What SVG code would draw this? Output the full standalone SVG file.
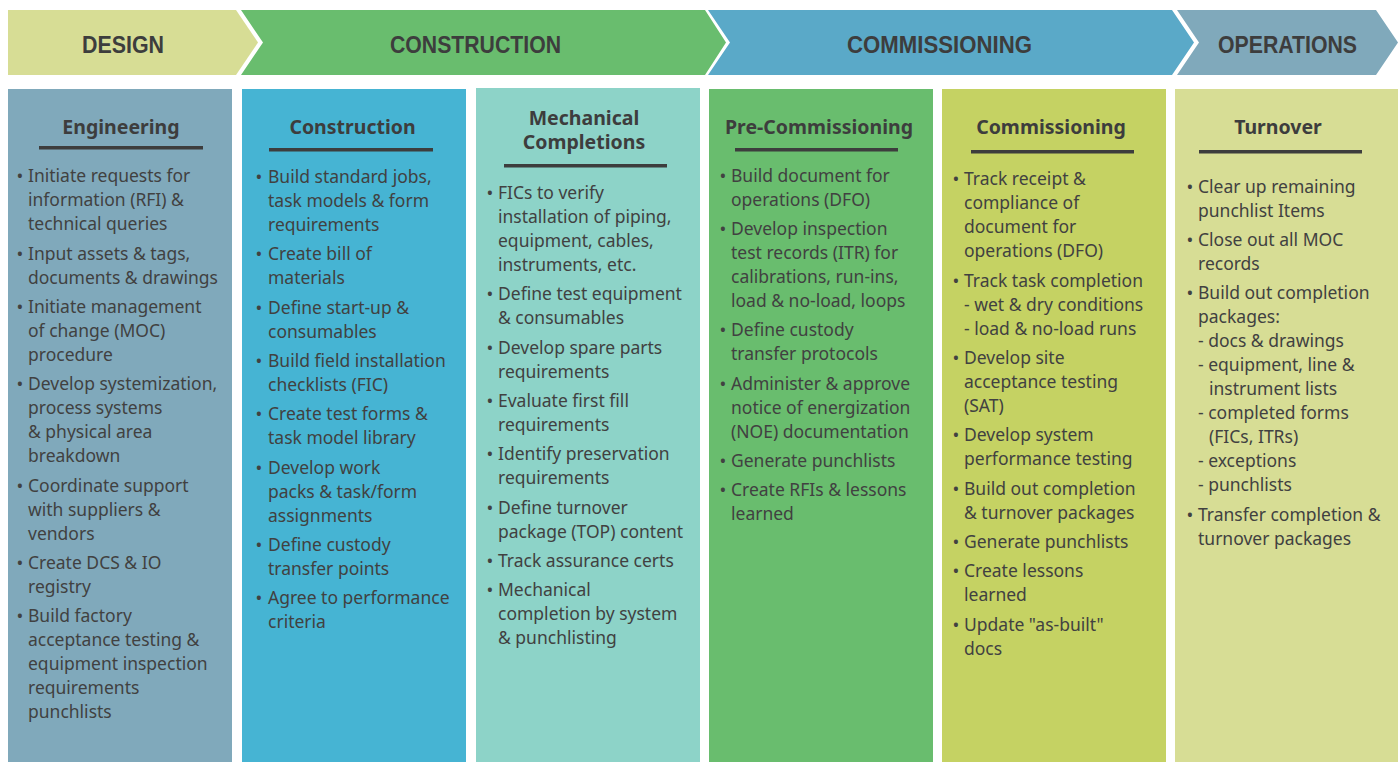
<svg xmlns="http://www.w3.org/2000/svg" width="1398" height="762" viewBox="0 0 1398 762">
<style>
.ph{font-family:"Liberation Sans",Arial,sans-serif;font-weight:700;font-size:23px;fill:#3d3d3d}
.h{font-family:"Noto Sans","DejaVu Sans",sans-serif;font-weight:700;font-size:19.5px;fill:#3d3d3d;text-anchor:middle}
.t{font-family:"Noto Sans","DejaVu Sans",sans-serif;font-size:17.5px;fill:#414141}
.b{font-family:"Noto Sans","DejaVu Sans",sans-serif;font-size:18px;fill:#414141;text-anchor:middle}
.ul{fill:#3d3d3d}
</style>
<rect width="1398" height="762" fill="#ffffff"/>
<g id="phase-design">
<polygon points="8,10 236,10 258,42.5 236,75 8,75" fill="#d7dd95"/>
<text class="ph" x="82" y="52.5" textLength="82" lengthAdjust="spacingAndGlyphs">DESIGN</text>
</g>
<g id="phase-construction">
<polygon points="241,10 705,10 726,42.5 705,75 241,75 263,42.5" fill="#69bd6e"/>
<text class="ph" x="390" y="52.5" textLength="171" lengthAdjust="spacingAndGlyphs">CONSTRUCTION</text>
</g>
<g id="phase-commissioning">
<polygon points="708,10 1172,10 1194,42.5 1172,75 708,75 730,42.5" fill="#5aa9c8"/>
<text class="ph" x="847" y="52.5" textLength="185" lengthAdjust="spacingAndGlyphs">COMMISSIONING</text>
</g>
<g id="phase-operations">
<polygon points="1177,10 1376,10 1398,42.5 1376,75 1177,75 1199,42.5" fill="#80a9bb"/>
<text class="ph" x="1218" y="52.5" textLength="139" lengthAdjust="spacingAndGlyphs">OPERATIONS</text>
</g>

<g id="col-engineering">
<rect x="8" y="89" width="224" height="673" fill="#80a9bb"/>
<text class="h" x="121" y="133.5">Engineering</text>
<rect class="ul" x="39" y="146" width="164" height="3.5"/>
<text class="b" x="20" y="181.5">•</text><text class="t" x="28" y="181.5">Initiate requests for</text>
<text class="t" x="28" y="205.5">information (RFI) &amp;</text>
<text class="t" x="28" y="229.5">technical queries</text>
<text class="b" x="20" y="259.5">•</text><text class="t" x="28" y="259.5">Input assets &amp; tags,</text>
<text class="t" x="28" y="283.5">documents &amp; drawings</text>
<text class="b" x="20" y="312.5">•</text><text class="t" x="28" y="312.5">Initiate management</text>
<text class="t" x="28" y="336.5">of change (MOC)</text>
<text class="t" x="28" y="360.5">procedure</text>
<text class="b" x="20" y="389.5">•</text><text class="t" x="28" y="389.5">Develop systemization,</text>
<text class="t" x="28" y="413.5">process systems</text>
<text class="t" x="28" y="437.5">&amp; physical area</text>
<text class="t" x="28" y="461.5">breakdown</text>
<text class="b" x="20" y="491.5">•</text><text class="t" x="28" y="491.5">Coordinate support</text>
<text class="t" x="28" y="515.5">with suppliers &amp;</text>
<text class="t" x="28" y="539.5">vendors</text>
<text class="b" x="20" y="568.5">•</text><text class="t" x="28" y="568.5">Create DCS &amp; IO</text>
<text class="t" x="28" y="592.5">registry</text>
<text class="b" x="20" y="621.5">•</text><text class="t" x="28" y="621.5">Build factory</text>
<text class="t" x="28" y="645.5">acceptance testing &amp;</text>
<text class="t" x="28" y="669.5">equipment inspection</text>
<text class="t" x="28" y="693.5">requirements</text>
<text class="t" x="28" y="717.5">punchlists</text>
</g>

<g id="col-construction">
<rect x="242" y="89" width="224" height="673" fill="#46b4d3"/>
<text class="h" x="352.5" y="133.5">Construction</text>
<rect class="ul" x="269" y="148" width="164" height="3.5"/>
<text class="b" x="259" y="182.5">•</text><text class="t" x="268" y="182.5">Build standard jobs,</text>
<text class="t" x="268" y="206.5">task models &amp; form</text>
<text class="t" x="268" y="230.5">requirements</text>
<text class="b" x="259" y="259.5">•</text><text class="t" x="268" y="259.5">Create bill of</text>
<text class="t" x="268" y="283.5">materials</text>
<text class="b" x="259" y="313.5">•</text><text class="t" x="268" y="313.5">Define start-up &amp;</text>
<text class="t" x="268" y="337.5">consumables</text>
<text class="b" x="259" y="366.5">•</text><text class="t" x="268" y="366.5">Build field installation</text>
<text class="t" x="268" y="390.5">checklists (FIC)</text>
<text class="b" x="259" y="419.5">•</text><text class="t" x="268" y="419.5">Create test forms &amp;</text>
<text class="t" x="268" y="443.5">task model library</text>
<text class="b" x="259" y="473.5">•</text><text class="t" x="268" y="473.5">Develop work</text>
<text class="t" x="268" y="497.5">packs &amp; task/form</text>
<text class="t" x="268" y="521.5">assignments</text>
<text class="b" x="259" y="550.5">•</text><text class="t" x="268" y="550.5">Define custody</text>
<text class="t" x="268" y="574.5">transfer points</text>
<text class="b" x="259" y="603.5">•</text><text class="t" x="268" y="603.5">Agree to performance</text>
<text class="t" x="268" y="627.5">criteria</text>
</g>

<g id="col-mechanical-completions">
<rect x="476" y="88" width="224" height="674" fill="#8dd3c8"/>
<text class="h" x="584" y="124.5">Mechanical</text>
<text class="h" x="584" y="149">Completions</text>
<rect class="ul" x="504" y="164" width="163" height="3.5"/>
<text class="b" x="490" y="198.5">•</text><text class="t" x="498" y="198.5">FICs to verify</text>
<text class="t" x="498" y="222.5">installation of piping,</text>
<text class="t" x="498" y="246.5">equipment, cables,</text>
<text class="t" x="498" y="270.5">instruments, etc.</text>
<text class="b" x="490" y="299.5">•</text><text class="t" x="498" y="299.5">Define test equipment</text>
<text class="t" x="498" y="323.5">&amp; consumables</text>
<text class="b" x="490" y="353.5">•</text><text class="t" x="498" y="353.5">Develop spare parts</text>
<text class="t" x="498" y="377.5">requirements</text>
<text class="b" x="490" y="406.5">•</text><text class="t" x="498" y="406.5">Evaluate first fill</text>
<text class="t" x="498" y="430.5">requirements</text>
<text class="b" x="490" y="459.5">•</text><text class="t" x="498" y="459.5">Identify preservation</text>
<text class="t" x="498" y="483.5">requirements</text>
<text class="b" x="490" y="513.5">•</text><text class="t" x="498" y="513.5">Define turnover</text>
<text class="t" x="498" y="537.5">package (TOP) content</text>
<text class="b" x="490" y="566.5">•</text><text class="t" x="498" y="566.5">Track assurance certs</text>
<text class="b" x="490" y="595.5">•</text><text class="t" x="498" y="595.5">Mechanical</text>
<text class="t" x="498" y="619.5">completion by system</text>
<text class="t" x="498" y="643.5">&amp; punchlisting</text>
</g>

<g id="col-pre-commissioning">
<rect x="709" y="89" width="224" height="673" fill="#69bd6e"/>
<text class="h" x="819" y="134">Pre-Commissioning</text>
<rect class="ul" x="735" y="148" width="163" height="3.5"/>
<text class="b" x="723" y="181.5">•</text><text class="t" x="731" y="181.5">Build document for</text>
<text class="t" x="731" y="205.5">operations (DFO)</text>
<text class="b" x="723" y="234.5">•</text><text class="t" x="731" y="234.5">Develop inspection</text>
<text class="t" x="731" y="258.5">test records (ITR) for</text>
<text class="t" x="731" y="282.5">calibrations, run-ins,</text>
<text class="t" x="731" y="306.5">load &amp; no-load, loops</text>
<text class="b" x="723" y="335.5">•</text><text class="t" x="731" y="335.5">Define custody</text>
<text class="t" x="731" y="359.5">transfer protocols</text>
<text class="b" x="723" y="389.5">•</text><text class="t" x="731" y="389.5">Administer &amp; approve</text>
<text class="t" x="731" y="413.5">notice of energization</text>
<text class="t" x="731" y="437.5">(NOE) documentation</text>
<text class="b" x="723" y="466.5">•</text><text class="t" x="731" y="466.5">Generate punchlists</text>
<text class="b" x="723" y="495.5">•</text><text class="t" x="731" y="495.5">Create RFIs &amp; lessons</text>
<text class="t" x="731" y="519.5">learned</text>
</g>

<g id="col-commissioning">
<rect x="942" y="89" width="224" height="673" fill="#c5d263"/>
<text class="h" x="1051" y="134">Commissioning</text>
<rect class="ul" x="971" y="150" width="163" height="3.5"/>
<text class="b" x="956" y="184.5">•</text><text class="t" x="964" y="184.5">Track receipt &amp;</text>
<text class="t" x="964" y="208.5">compliance of</text>
<text class="t" x="964" y="232.5">document for</text>
<text class="t" x="964" y="256.5">operations (DFO)</text>
<text class="b" x="956" y="286.5">•</text><text class="t" x="964" y="286.5">Track task completion</text>
<text class="t" x="964" y="310.5">- wet &amp; dry conditions</text>
<text class="t" x="964" y="334.5">- load &amp; no-load runs</text>
<text class="b" x="956" y="363.5">•</text><text class="t" x="964" y="363.5">Develop site</text>
<text class="t" x="964" y="387.5">acceptance testing</text>
<text class="t" x="964" y="411.5">(SAT)</text>
<text class="b" x="956" y="440.5">•</text><text class="t" x="964" y="440.5">Develop system</text>
<text class="t" x="964" y="464.5">performance testing</text>
<text class="b" x="956" y="494.5">•</text><text class="t" x="964" y="494.5">Build out completion</text>
<text class="t" x="964" y="518.5">&amp; turnover packages</text>
<text class="b" x="956" y="547.5">•</text><text class="t" x="964" y="547.5">Generate punchlists</text>
<text class="b" x="956" y="576.5">•</text><text class="t" x="964" y="576.5">Create lessons</text>
<text class="t" x="964" y="600.5">learned</text>
<text class="b" x="956" y="630.5">•</text><text class="t" x="964" y="630.5">Update "as-built"</text>
<text class="t" x="964" y="654.5">docs</text>
</g>

<g id="col-turnover">
<rect x="1175" y="89" width="223" height="673" fill="#d7dd95"/>
<text class="h" x="1278" y="134">Turnover</text>
<rect class="ul" x="1199" y="150" width="163" height="3.5"/>
<text class="b" x="1190" y="192.5">•</text><text class="t" x="1198" y="192.5">Clear up remaining</text>
<text class="t" x="1198" y="216.5">punchlist Items</text>
<text class="b" x="1190" y="245.5">•</text><text class="t" x="1198" y="245.5">Close out all MOC</text>
<text class="t" x="1198" y="269.5">records</text>
<text class="b" x="1190" y="298.5">•</text><text class="t" x="1198" y="298.5">Build out completion</text>
<text class="t" x="1198" y="322.5">packages:</text>
<text class="t" x="1198" y="346.5">- docs &amp; drawings</text>
<text class="t" x="1198" y="370.5">- equipment, line &amp;</text>
<text class="t" x="1209" y="394.5">instrument lists</text>
<text class="t" x="1198" y="418.5">- completed forms</text>
<text class="t" x="1209" y="442.5">(FICs, ITRs)</text>
<text class="t" x="1198" y="466.5">- exceptions</text>
<text class="t" x="1198" y="490.5">- punchlists</text>
<text class="b" x="1190" y="520.5">•</text><text class="t" x="1198" y="520.5">Transfer completion &amp;</text>
<text class="t" x="1198" y="544.5">turnover packages</text>
</g>
</svg>
